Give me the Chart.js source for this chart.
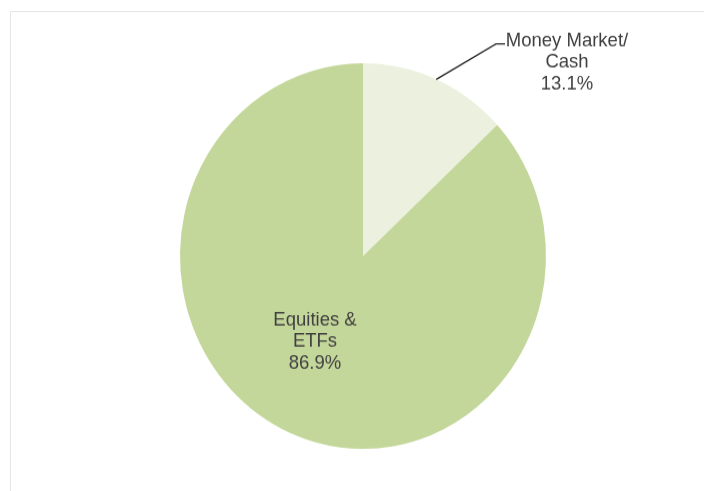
<!DOCTYPE html>
<html>
<head>
<meta charset="utf-8">
<script src="https://cdn.jsdelivr.net/npm/chart.js@4.4.0/dist/chart.umd.min.js"></script>
<style>
html,body{margin:0;padding:0;background:#fff;overflow:hidden;width:704px;height:491px;}
#frame{position:absolute;left:10px;top:11px;width:720px;height:520px;border:1px solid #e6e6e6;box-sizing:border-box;}
#wrap{position:absolute;left:0;top:0;width:704px;height:466px;transform:scaleY(1.0537);transform-origin:0 0;}
canvas{display:block;}
</style>
</head>
<body>
<div id="frame"></div>
<div id="wrap"><canvas id="c" width="704" height="466"></canvas></div>
<script>
// Data
const categories = ['Money Market/Cash', 'Equities & ETFs'];
const labelLines = [['Money Market/', 'Cash'], ['Equities &', 'ETFs']];
const values = [13.1, 86.9];
const colors = ['#ebf1de', '#c4d79b'];

const labelPlugin = {
  id: 'sliceLabels',
  afterDatasetsDraw(chart) {
    const ctx = chart.ctx;
    const meta = chart.getDatasetMeta(0);
    const font = '18.5px "Liberation Sans", Arial, sans-serif';
    const lineH = 20.3;
    ctx.save();
    ctx.font = font;
    ctx.fillStyle = '#404040';
    ctx.textAlign = 'center';
    ctx.textBaseline = 'alphabetic';
    meta.data.forEach((arc, i) => {
      const p = arc.getProps(['x', 'y', 'startAngle', 'endAngle', 'outerRadius'], true);
      const lines = labelLines[i].concat([values[i].toFixed(1) + '%']);
      let tx, ty;
      if (i === 0) {
        // outside label with leader line
        const mid = (p.startAngle + p.endAngle) / 2;
        const sx = p.x + p.outerRadius * Math.cos(mid);
        const sy = p.y + p.outerRadius * Math.sin(mid);
        const ex = p.x + 133, ey = p.y - 201.4;
        ctx.beginPath();
        ctx.strokeStyle = '#262626';
        ctx.lineWidth = 1.4;
        ctx.moveTo(sx, sy);
        ctx.lineTo(ex, ey);
        ctx.lineTo(ex + 9, ey);
        ctx.stroke();
        tx = p.x + 204; ty = p.y - 199;
      } else {
        tx = p.x - 48; ty = p.y + 66;
      }
      lines.forEach((t, k) => ctx.fillText(t, tx, ty + k * lineH));
    });
    ctx.restore();
  }
};

new Chart(document.getElementById('c'), {
  type: 'pie',
  data: {
    labels: categories,
    datasets: [{
      data: values,
      backgroundColor: colors,
      borderWidth: 0
    }]
  },
  options: {
    responsive: false,
    animation: false,
    layout: { padding: { left: 180, right: 158, top: 60, bottom: 40 } },
    plugins: { legend: { display: false }, tooltip: { enabled: false } }
  },
  plugins: [labelPlugin]
});
</script>
</body>
</html>
